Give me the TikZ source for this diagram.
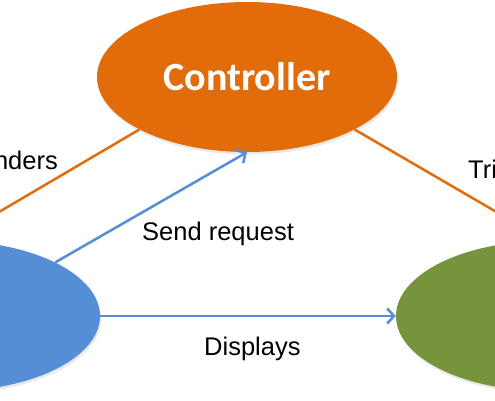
\documentclass[tikz,border=0pt]{standalone}
\usepackage{fontspec}
\setmainfont{Liberation Sans}
\newfontfamily\ctrlfont{Carlito}
\usetikzlibrary{shapes.geometric,arrows.meta,shadows}
\definecolor{ctrlorange}{RGB}{227,108,10}
\definecolor{viewblue}{RGB}{85,142,213}
\definecolor{modelgreen}{RGB}{119,147,60}
\begin{document}
\begin{tikzpicture}[x=1pt,y=1pt,
  blob/.style={ellipse, minimum width=300pt, minimum height=150pt, inner sep=0pt, draw=none,
    drop shadow={opacity=0.18, shadow xshift=1pt, shadow yshift=-2.5pt}},
  orangeline/.style={draw=ctrlorange, line width=2.5pt},
  bluearrow/.style={draw=viewblue, line width=2.5pt, -{Straight Barb[length=7pt,width=15pt]}},
  lbl/.style={font=\fontsize{25.5}{30}\selectfont, inner sep=0pt, text=black}
]
\useasboundingbox (0,0) rectangle (495,400);
\node[blob, fill=ctrlorange, text=white, font=\ctrlfont\bfseries\fontsize{40}{48}\selectfont] (ctrl) at (247,323) {\raisebox{-3pt}{Controller}};
\node[blob, fill=viewblue] (view) at (-50,84) {};
\node[blob, fill=modelgreen] (model) at (546,84) {};
\draw[orangeline] (ctrl.206) -- (view.north);
\draw[orangeline] (ctrl.334) -- (model.north);
\draw[bluearrow] (view.27) -- (ctrl.south);
\draw[bluearrow] (view.east) -- (model.west);
\node[lbl, anchor=base east] (rend) at (58,231) {Renders};
\node[lbl, anchor=base west] (trig) at (468,222) {Triggers};
\node[lbl, anchor=base west] (send) at (142,160) {Send request};
\node[lbl, anchor=base west] (disp) at (204,45) {Displays};
\end{tikzpicture}
\end{document}
